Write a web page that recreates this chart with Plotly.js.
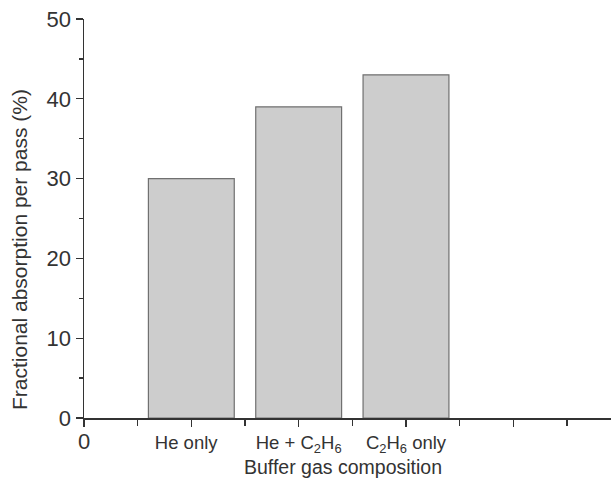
<!DOCTYPE html>
<html>
<head>
<meta charset="utf-8">
<script src="https://cdn.plot.ly/plotly-3.0.1.min.js"></script>
<style>html,body{margin:0;padding:0;background:#fff;}#chart{width:611px;height:479px;}</style>
</head>
<body>
<div id="chart"></div>
<script>
const categories = ["He only&nbsp;&nbsp;", "He + C<sub>2</sub>H<sub>6</sub>", "C<sub>2</sub>H<sub>6</sub> only"];
const positions = [1, 2, 3];
const absorption = [30, 39, 43];
const yTickVals = [0, 10, 20, 30, 40, 50];
const yTickText = ["0", "10", "20", "30", "40", "50"];

const font = "Arial, 'Liberation Sans', sans-serif";
const ink = "#333333";

const trace = {
  type: "bar",
  x: positions,
  y: absorption,
  width: 0.8,
  marker: { color: "#cdcdcd", line: { color: "#707070", width: 1.2 } },
  hoverinfo: "none"
};

const layout = {
  width: 611, height: 479,
  margin: { l: 84, r: 0, t: 19, b: 61 },
  paper_bgcolor: "#fff", plot_bgcolor: "#fff",
  showlegend: false,
  font: { family: font, color: ink },
  xaxis: {
    range: [0, 4.91],
    tickmode: "array",
    tickvals: [0, 1, 2, 3, 4],
    ticktext: ['<span style="font-size:22px">0</span>'].concat(categories).concat([""]),
    ticks: "outside", ticklen: 7, tickwidth: 1.3, tickcolor: ink,
    tickfont: { size: 18.5, color: ink, family: font },
    showline: true, linecolor: ink, linewidth: 1.5,
    showgrid: false, zeroline: false,
    minor: { tickmode: "array", tickvals: [0.5, 1.5, 2.5, 3.5, 4.5], ticks: "outside", ticklen: 6, tickwidth: 1.3, tickcolor: ink, showgrid: false }
  },
  yaxis: {
    range: [0, 50],
    tickmode: "array",
    tickvals: yTickVals,
    ticktext: yTickText,
    ticks: "outside", ticklen: 7, tickwidth: 1.3, tickcolor: ink,
    tickfont: { size: 22, color: ink, family: font },
    showline: true, linecolor: ink, linewidth: 1.5,
    showgrid: false, zeroline: false,
    minor: { tickmode: "array", tickvals: [5, 15, 25, 35, 45], ticks: "outside", ticklen: 4, tickwidth: 1.3, tickcolor: ink, showgrid: false }
  },
  annotations: [
    { text: "Fractional absorption per pass (%)", xref: "paper", yref: "paper",
      x: -0.1233, y: 0.421, xanchor: "center", yanchor: "middle", textangle: -90,
      showarrow: false, font: { size: 21, color: ink, family: font } },
    { text: "Buffer gas composition", xref: "paper", yref: "paper",
      x: 0.4915, y: -0.1228, xanchor: "center", yanchor: "middle",
      showarrow: false, font: { size: 19.5, color: ink, family: font } }
  ]
};

Plotly.newPlot("chart", [trace], layout, { displayModeBar: false, staticPlot: true });
</script>
</body>
</html>
